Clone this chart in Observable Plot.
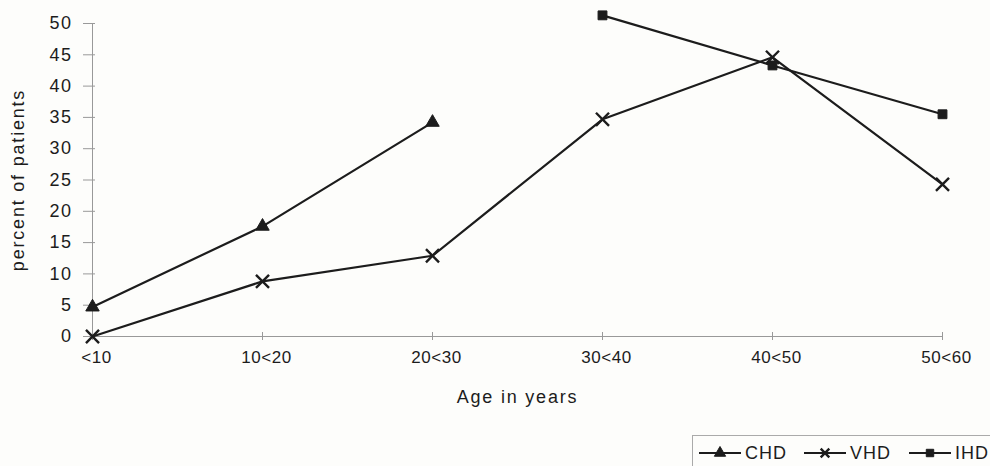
<!DOCTYPE html>
<html>
<head>
<meta charset="utf-8">
<script src="https://cdn.jsdelivr.net/npm/d3@7"></script>
<script src="https://cdn.jsdelivr.net/npm/@observablehq/plot@0.6"></script>
<style>
  body { margin: 0; background: #fdfdfb; font-family: "Liberation Sans", Arial, sans-serif; }
  #wrap { position: relative; width: 990px; height: 466px; overflow: hidden; }
  #legend { position: absolute; left: 692px; top: 435px; width: 310px; height: 40px;
            border-top: 1px solid #aaa; border-left: 1px solid #aaa; box-sizing: border-box; }
  .item { position: absolute; top: 6px; height: 22px; display: flex; align-items: center; }
  .item span { font-size: 18px; letter-spacing: 1px; color: #1c1c1c; margin-left: 3px; }
</style>
</head>
<body>
<div id="wrap">
  <div id="chart"></div>
  <div id="legend"></div>
</div>
<script>
const categories = ["<10", "10<20", "20<30", "30<40", "40<50", "50<60"];
const seriesNames = ["CHD", "VHD", "IHD"];
const chd = [4.7, 17.6, 34.2, null, null, null];
const vhd = [0, 8.8, 12.9, 34.7, 44.6, 24.3];
const ihd = [null, null, null, 51.3, 43.3, 35.5];
const yTicks = [0, 5, 10, 15, 20, 25, 30, 35, 40, 45, 50];
const yLabel = "percent of patients";
const xLabel = "Age in years";

const ink = "#1c1c1c";
const symbols = {CHD: "triangle", VHD: "times", IHD: "square"};
const values = {CHD: chd, VHD: vhd, IHD: ihd};

const rows = [];
for (const s of seriesNames) {
  values[s].forEach((v, i) => { if (v != null) rows.push({series: s, age: categories[i], value: v}); });
}

const marks = [
  Plot.ruleY([0], {stroke: "#999", strokeWidth: 1}),
  Plot.ruleX([categories[0]], {y1: 0, y2: 50, stroke: "#999", strokeWidth: 1}),
  Plot.axisY({ticks: yTicks, tickSize: 12, dx: 4, tickPadding: 11, stroke: "#999", color: ink, label: null, tickFormat: d => String(d), fontSize: 18}),
  Plot.axisX({tickSize: 8, dy: -4, stroke: "#999", label: null, tickFormat: () => ""}),
  Plot.axisX({tickSize: 0, tickPadding: 14, dx: 4, color: ink, label: null}),
  Plot.text([yLabel], {frameAnchor: "left", dx: -73, rotate: -90, textAnchor: "middle", fontSize: 18, fill: ink}),
  Plot.text([xLabel], {frameAnchor: "bottom", dy: 66, fontSize: 18, fill: ink}),
];
for (const s of seriesNames) {
  const data = rows.filter(d => d.series === s);
  marks.push(Plot.line(data, {x: "age", y: "value", stroke: ink, strokeWidth: 2.2}));
  if (s === "VHD") {
    marks.push(Plot.dot(data, {x: "age", y: "value", symbol: symbols[s], r: 6, stroke: ink, strokeWidth: 2.4, fill: "none"}));
  } else {
    marks.push(Plot.dot(data, {x: "age", y: "value", symbol: symbols[s], r: 5, fill: ink, stroke: ink, strokeWidth: 1}));
  }
}

const chart = Plot.plot({
  width: 990,
  height: 435,
  marginLeft: 91,
  marginRight: 47,
  marginTop: 23,
  marginBottom: 99,
  style: {background: "transparent", fontFamily: "'Liberation Sans', Arial, sans-serif", fontSize: "17px"},
  x: {type: "point", domain: categories, padding: 0, axis: null},
  y: {domain: [0, 50], axis: null},
  marks
});
chart.querySelectorAll("text").forEach(t => {
  if (t.textContent === yLabel || t.textContent === xLabel) t.style.letterSpacing = "1.8px";
  else if (/^\d+$/.test(t.textContent)) { t.style.letterSpacing = "1.5px"; t.style.fontSize = "18px"; }
  else t.style.letterSpacing = "0.6px";
});
document.getElementById("chart").appendChild(chart);

// legend
const legend = document.getElementById("legend");
const pos = {CHD: 5, VHD: 110, IHD: 215};
for (const s of seriesNames) {
  const item = document.createElement("div");
  item.className = "item";
  item.style.left = pos[s] + "px";
  const sym = d3.symbol(s === "CHD" ? d3.symbolTriangle : s === "VHD" ? d3.symbolTimes : d3.symbolSquare, s === "VHD" ? 50 : 55)();
  item.innerHTML = `<svg width="44" height="22"><line x1="1" x2="43" y1="11" y2="11" stroke="${ink}" stroke-width="2"/>` +
    `<path transform="translate(22,11)" d="${sym}" fill="${s === "VHD" ? "none" : ink}" stroke="${ink}" stroke-width="${s === "VHD" ? 2.4 : 1}"/></svg>` +
    `<span>${s}</span>`;
  legend.appendChild(item);
}
</script>
</body>
</html>
